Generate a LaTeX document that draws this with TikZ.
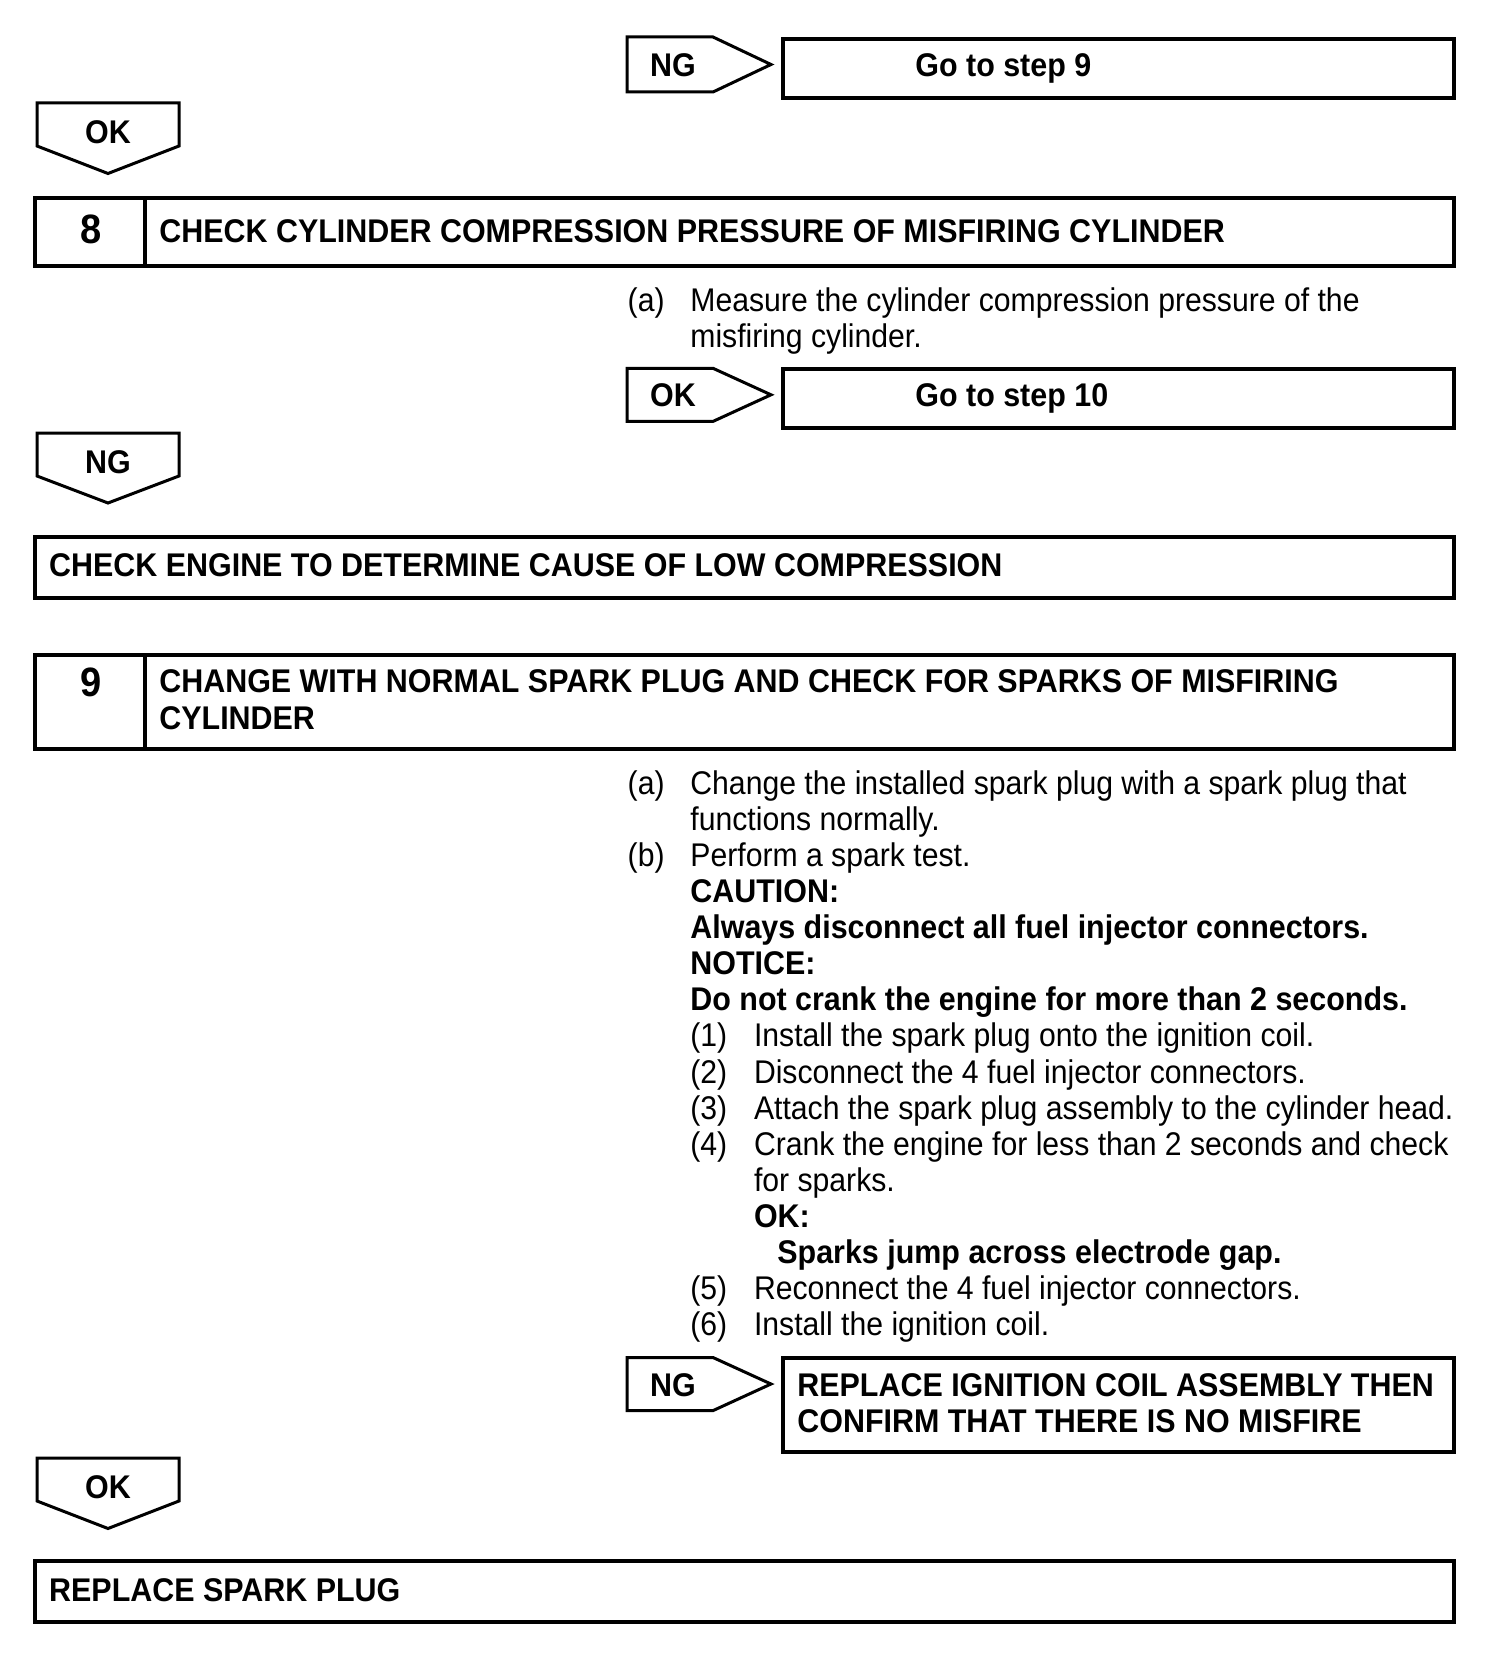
\documentclass[tikz,border=0pt]{standalone}
\usepackage{fontspec}
\setmainfont[FakeStretch=0.92, BoldFeatures={FakeStretch=0.928}]{Liberation Sans}
\usetikzlibrary{fit}
\begin{document}
\begin{tikzpicture}[x=0.5pt,y=-0.5pt,
  box/.style={draw, line width=2pt, inner sep=0pt},
  arr/.style={draw, line width=1.5pt, line join=miter},
  bt/.style={font=\fontsize{16.4}{18}\selectfont\bfseries, anchor=base west, inner sep=0pt},
  rt/.style={font=\fontsize{16.4}{18}\selectfont, anchor=base west, inner sep=0pt},
  lab/.style={font=\fontsize{16.4}{18}\selectfont\bfseries, anchor=base, inner sep=0pt},
  num/.style={font=\fontsize{20.5}{22}\selectfont\bfseries, anchor=base, inner sep=0pt}]
\fill[white] (0,0) rectangle (1504,1664);
\useasboundingbox (0,0) rectangle (1504,1664);

% ---- NG -> Go to step 9
\draw[arr] (627,37) -- (713,37) -- (771,64.5) -- (713,92) -- (627,92) -- cycle;
\node[lab] (ng1) at (673,76.7) {NG};
\node[box, fit={(783,39)(1454,98)}] (g9) {};
\node[bt] (g9t) at (915,76.7) {Go to step 9};

% ---- OK down
\draw[arr] (37,103) -- (179,103) -- (179,146) -- (108,173.5) -- (37,146) -- cycle;
\node[lab] (ok1) at (108,143.5) {OK};

% ---- Step 8
\node[box, fit={(35,198.5)(1454,266.4)}] (s8) {};
\draw[line width=2pt] (145.4,198.5) -- (145.4,266.4);
\node[num] (n8) at (91.5,243.3) {8};
\node[bt] (s8t) at (159,242.5) {CHECK CYLINDER COMPRESSION PRESSURE OF MISFIRING CYLINDER};
\node[rt] (s8a) at (627.3,311.3) {(a)};
\node[rt] (s8a1) at (690,311.3) {Measure the cylinder compression pressure of the};
\node[rt] (s8a2) at (690,347.4) {misfiring cylinder.};

% ---- OK -> Go to step 10
\draw[arr] (627,368.3) -- (713,368.3) -- (771,394.8) -- (713,421.4) -- (627,421.4) -- cycle;
\node[lab] (ok2) at (673,406.8) {OK};
\node[box, fit={(783,369.4)(1454,427.7)}] (g10) {};
\node[bt] (g10t) at (915,406.8) {Go to step 10};

% ---- NG down
\draw[arr] (37,433) -- (179,433) -- (179,476) -- (108,503) -- (37,476) -- cycle;
\node[lab] (ng2) at (108,473.7) {NG};

\node[box, fit={(35,537)(1454,597.6)}] (ce) {};
\node[bt] (cet) at (48.8,576.7) {CHECK ENGINE TO DETERMINE CAUSE OF LOW COMPRESSION};

% ---- Step 9
\node[box, fit={(35,655)(1454,749.3)}] (s9) {};
\draw[line width=2pt] (145.4,655) -- (145.4,749.3);
\node[num] (n9) at (91.5,696.7) {9};
\node[bt] (s9t1) at (159,692.6) {CHANGE WITH NORMAL SPARK PLUG AND CHECK FOR SPARKS OF MISFIRING};
\node[bt] (s9t2) at (159,729.5) {CYLINDER};

\node[rt] (la) at (627.3,794.2) {(a)};
\node[rt] (ta1) at (690,794.2) {Change the installed spark plug with a spark plug that};
\node[rt] (ta2) at (690,830.3) {functions normally.};
\node[rt] (lb) at (627.3,866.4) {(b)};
\node[rt] (tb) at (690,866.4) {Perform a spark test.};
\node[bt] (cau) at (690,902.5) {CAUTION:};
\node[bt] (cau2) at (690,938.6) {Always disconnect all fuel injector connectors.};
\node[bt] (not) at (690,974.7) {NOTICE:};
\node[bt] (not2) at (690,1010.8) {Do not crank the engine for more than 2 seconds.};
\node[rt] (l1) at (690,1046.9) {(1)};
\node[rt] (t1) at (753.6,1046.9) {Install the spark plug onto the ignition coil.};
\node[rt] (l2) at (690,1083) {(2)};
\node[rt] (t2) at (753.6,1083) {Disconnect the 4 fuel injector connectors.};
\node[rt] (l3) at (690,1119.1) {(3)};
\node[rt] (t3) at (753.6,1119.1) {Attach the spark plug assembly to the cylinder head.};
\node[rt] (l4) at (690,1155.2) {(4)};
\node[rt] (t4) at (753.6,1155.2) {Crank the engine for less than 2 seconds and check};
\node[rt] (t4b) at (753.6,1191.3) {for sparks.};
\node[bt] (okc) at (753.6,1227.4) {OK:};
\node[bt] (okc2) at (777,1263.5) {Sparks jump across electrode gap.};
\node[rt] (l5) at (690,1299.6) {(5)};
\node[rt] (t5) at (753.6,1299.6) {Reconnect the 4 fuel injector connectors.};
\node[rt] (l6) at (690,1335.7) {(6)};
\node[rt] (t6) at (753.6,1335.7) {Install the ignition coil.};

% ---- NG -> Replace ignition coil
\draw[arr] (627,1357.5) -- (713,1357.5) -- (771,1384) -- (713,1410.6) -- (627,1410.6) -- cycle;
\node[lab] (ng3) at (673,1396) {NG};
\node[box, fit={(783,1357.5)(1454,1452)}] (ric) {};
\node[bt] (ric1) at (797,1396) {REPLACE IGNITION COIL ASSEMBLY THEN};
\node[bt] (ric2) at (797,1432) {CONFIRM THAT THERE IS NO MISFIRE};

% ---- OK down
\draw[arr] (37,1458) -- (179,1458) -- (179,1501) -- (108,1528.5) -- (37,1501) -- cycle;
\node[lab] (ok3) at (108,1498) {OK};

\node[box, fit={(35,1561.3)(1454,1621.8)}] (rsp) {};
\node[bt] (rspt) at (48.8,1601) {REPLACE SPARK PLUG};
\end{tikzpicture}
\end{document}
